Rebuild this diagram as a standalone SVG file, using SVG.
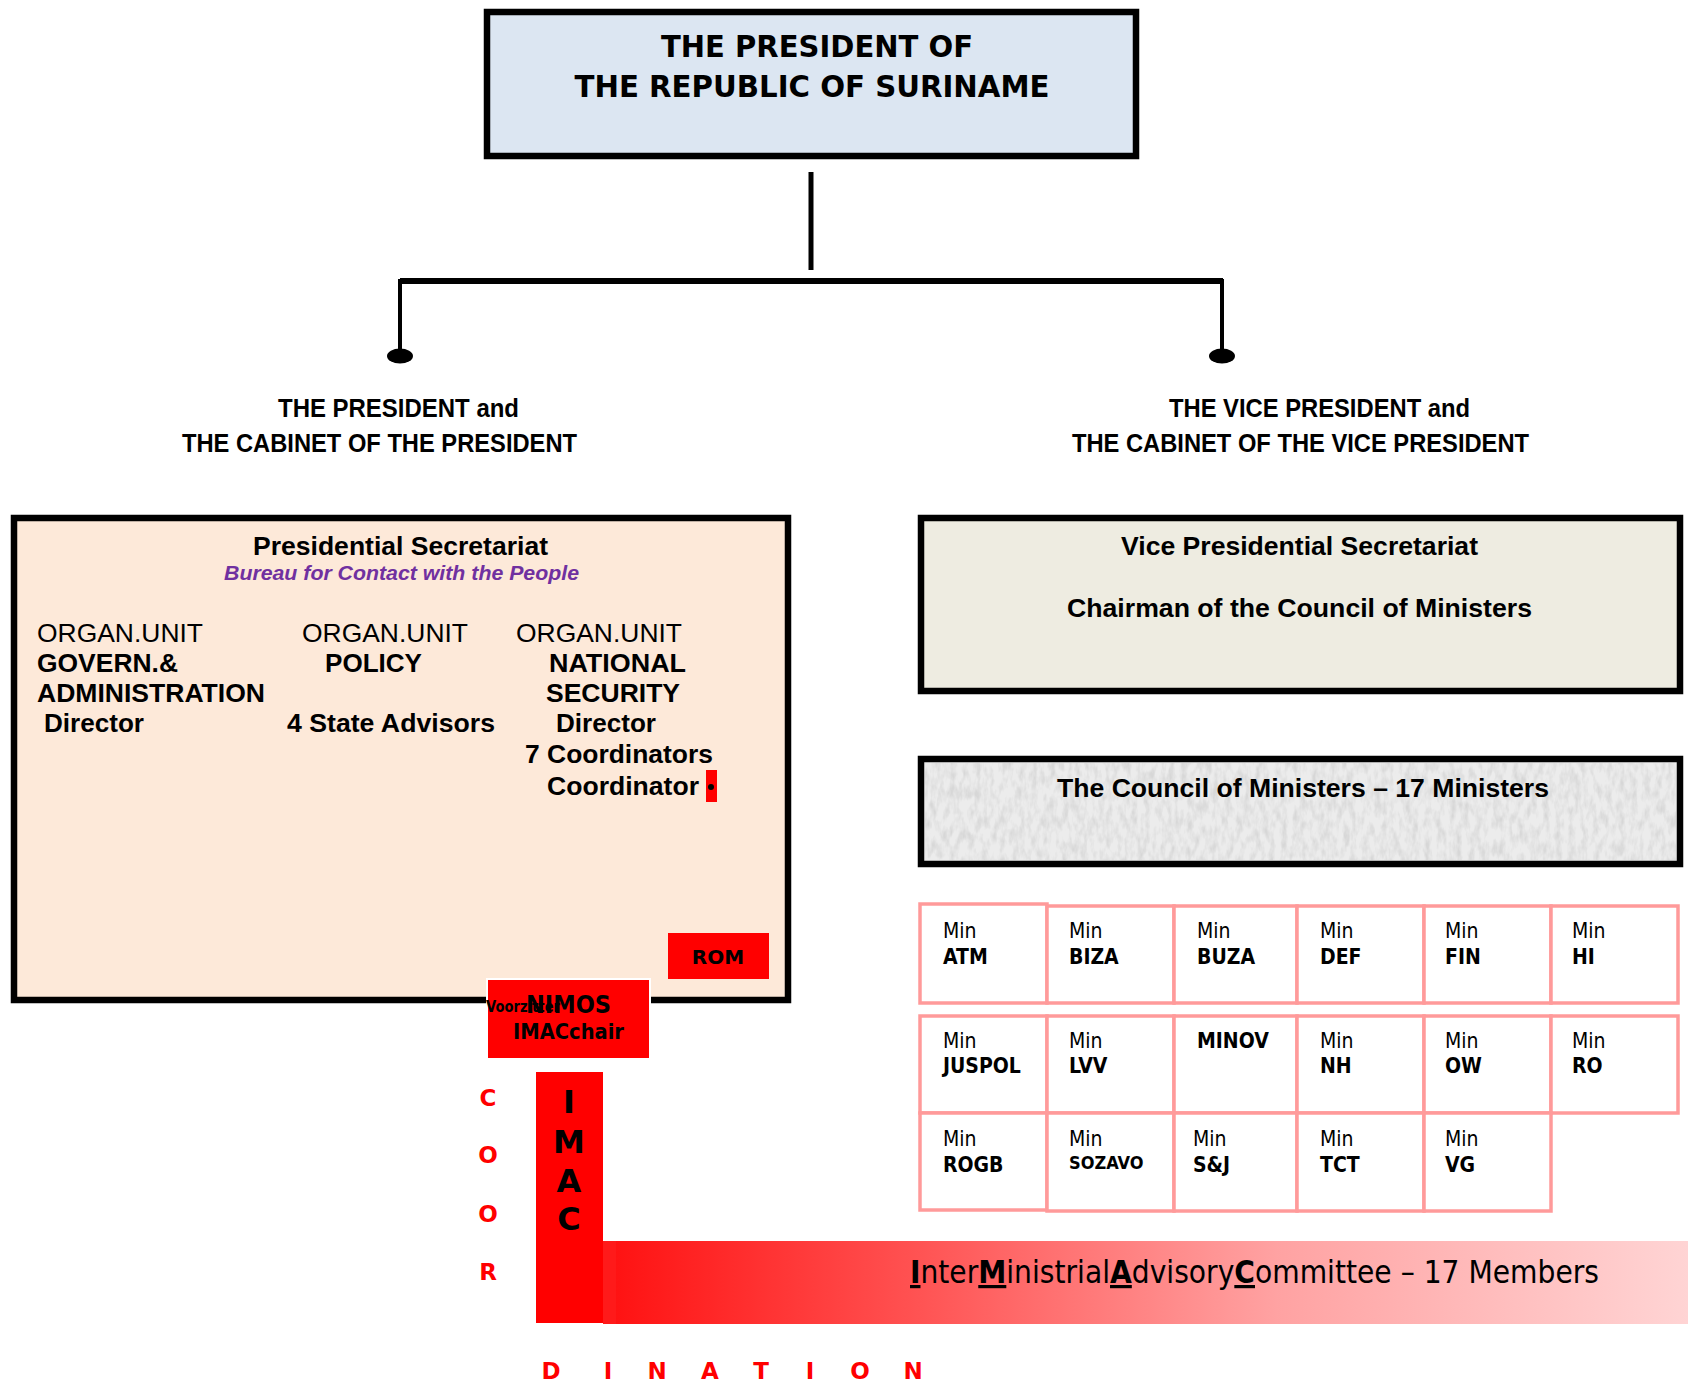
<svg xmlns="http://www.w3.org/2000/svg" width="1688" height="1382" viewBox="0 0 1688 1382">
<style>
.box{stroke:#000;stroke-width:6.5}
.ls{font-family:"Liberation Sans",Arial,sans-serif;font-size:26px;fill:#000}
.b{font-weight:bold}
.cell{fill:#fff;stroke:#ff9a9a;stroke-width:3.5}
.min{font-family:"DejaVu Sans Condensed","DejaVu Sans",sans-serif;font-size:21px;fill:#000}
.code{font-family:"DejaVu Sans Condensed","DejaVu Sans",sans-serif;font-size:21px;font-weight:bold;fill:#000}
.dv{font-family:"DejaVu Sans",Verdana,sans-serif;font-weight:bold}
.red{fill:#ff0000}
.coord{font-family:"DejaVu Sans",Verdana,sans-serif;font-weight:bold;font-size:23px;fill:#ff0000;text-anchor:middle}
.conn{stroke:#000;fill:none}
</style>
<defs>
<linearGradient id="imacg" x1="0" y1="0" x2="1" y2="0">
<stop offset="0" stop-color="#ff1010"/>
<stop offset="0.3" stop-color="#ff5555"/>
<stop offset="0.62" stop-color="#ffa2a2"/>
<stop offset="1" stop-color="#ffd4d4"/>
</linearGradient>
<filter id="tex" x="0" y="0" width="1" height="1">
<feTurbulence type="fractalNoise" baseFrequency="0.16 0.07" numOctaves="3" seed="4"/>
<feColorMatrix type="matrix" values="0 0 0 0 0.68  0 0 0 0 0.68  0 0 0 0 0.68  2.4 0 0 0 -0.95"/>
</filter>
</defs>
<rect width="1688" height="1382" fill="#fff"/>

<g id="president">
<rect class="box" x="487" y="12" width="649" height="144" fill="#dce6f2" stroke-width="7"/>
<text class="dv" x="817" y="57" font-size="31" text-anchor="middle" textLength="312" lengthAdjust="spacingAndGlyphs">THE PRESIDENT OF</text>
<text class="dv" x="812" y="97" font-size="31" text-anchor="middle" textLength="475" lengthAdjust="spacingAndGlyphs">THE REPUBLIC OF SURINAME</text>
</g>

<g id="connectors">
<line class="conn" x1="811" y1="172" x2="811" y2="270" stroke-width="5"/>
<line class="conn" x1="400" y1="281" x2="1223" y2="281" stroke-width="6"/>
<line class="conn" x1="400" y1="279" x2="400" y2="352" stroke-width="4"/>
<line class="conn" x1="1222" y1="279" x2="1222" y2="352" stroke-width="4"/>
<ellipse cx="400" cy="356" rx="13" ry="7.5" fill="#000"/>
<ellipse cx="1222" cy="356" rx="13" ry="7.5" fill="#000"/>
</g>

<g id="label-president">
<text class="ls b" x="278" y="417" textLength="241" lengthAdjust="spacingAndGlyphs">THE PRESIDENT and</text>
<text class="ls b" x="182" y="452" textLength="395" lengthAdjust="spacingAndGlyphs">THE CABINET OF THE PRESIDENT</text>
</g>
<g id="label-vice">
<text class="ls b" x="1169" y="417" textLength="301" lengthAdjust="spacingAndGlyphs">THE VICE PRESIDENT and</text>
<text class="ls b" x="1072" y="452" textLength="457" lengthAdjust="spacingAndGlyphs">THE CABINET OF THE VICE PRESIDENT</text>
</g>

<g id="presidential-secretariat">
<rect class="box" x="14" y="518" width="774" height="482" fill="#fde9d9"/>
<text class="ls b" x="253" y="555" textLength="295" lengthAdjust="spacingAndGlyphs">Presidential Secretariat</text>
<text class="ls b" x="224" y="580" font-style="italic" style="fill:#7030a0;font-size:21px" textLength="355" lengthAdjust="spacingAndGlyphs">Bureau for Contact with the People</text>
<text class="ls" x="37" y="642" textLength="166" lengthAdjust="spacingAndGlyphs">ORGAN.UNIT</text>
<text class="ls b" x="37" y="672" textLength="141" lengthAdjust="spacingAndGlyphs">GOVERN.&amp;</text>
<text class="ls b" x="37" y="702" textLength="228" lengthAdjust="spacingAndGlyphs">ADMINISTRATION</text>
<text class="ls b" x="44" y="732" textLength="100" lengthAdjust="spacingAndGlyphs">Director</text>
<text class="ls" x="302" y="642" textLength="166" lengthAdjust="spacingAndGlyphs">ORGAN.UNIT</text>
<text class="ls b" x="325" y="672" textLength="97" lengthAdjust="spacingAndGlyphs">POLICY</text>
<text class="ls b" x="287" y="732" textLength="208" lengthAdjust="spacingAndGlyphs">4 State Advisors</text>
<text class="ls" x="516" y="642" textLength="166" lengthAdjust="spacingAndGlyphs">ORGAN.UNIT</text>
<text class="ls b" x="549" y="672" textLength="137" lengthAdjust="spacingAndGlyphs">NATIONAL</text>
<text class="ls b" x="546" y="702" textLength="134" lengthAdjust="spacingAndGlyphs">SECURITY</text>
<text class="ls b" x="556" y="732" textLength="100" lengthAdjust="spacingAndGlyphs">Director</text>
<text class="ls b" x="525" y="763" textLength="188" lengthAdjust="spacingAndGlyphs">7 Coordinators</text>
<text class="ls b" x="547" y="795" textLength="152" lengthAdjust="spacingAndGlyphs">Coordinator</text>
<rect class="red" x="706" y="770" width="11" height="32"/>
<circle cx="711" cy="787" r="3" fill="#000"/>
</g>

<g id="rom">
<rect class="red" x="668" y="933" width="101" height="46"/>
<text class="dv" x="718" y="964" font-size="20" text-anchor="middle">ROM</text>
</g>

<g id="nimos">
<rect class="red" x="487" y="979" width="163" height="80" stroke="#fff" stroke-width="2"/>
<text class="dv" x="486" y="1012" font-size="16" textLength="74" lengthAdjust="spacingAndGlyphs">Voorzitter</text>
<text class="dv" x="526" y="1013" font-size="24" textLength="85" lengthAdjust="spacingAndGlyphs">NIMOS</text>
<text class="dv" x="513" y="1039" font-size="22" textLength="111" lengthAdjust="spacingAndGlyphs">IMACchair</text>
</g>

<g id="vice-secretariat">
<rect class="box" x="921" y="518" width="759" height="173" fill="#eeece1"/>
<text class="ls b" x="1121" y="555" textLength="357" lengthAdjust="spacingAndGlyphs">Vice Presidential Secretariat</text>
<text class="ls b" x="1067" y="617" textLength="465" lengthAdjust="spacingAndGlyphs">Chairman of the Council of Ministers</text>
</g>

<g id="council">
<rect class="box" x="921" y="759" width="759" height="105" fill="#ececec"/>
<rect x="925" y="763" width="751" height="97" filter="url(#tex)"/>
<text class="ls b" x="1057" y="797" textLength="492" lengthAdjust="spacingAndGlyphs">The Council of Ministers – 17 Ministers</text>
</g>

<g id="ministers">
<g id="min-atm"><rect class="cell" x="920" y="904" width="127" height="99"/><text class="min" x="943" y="938">Min</text><text class="code" x="943" y="964">ATM</text></g>
<g id="min-biza"><rect class="cell" x="1047" y="906" width="127" height="97"/><text class="min" x="1069" y="938">Min</text><text class="code" x="1069" y="964">BIZA</text></g>
<g id="min-buza"><rect class="cell" x="1174" y="906" width="123" height="97"/><text class="min" x="1197" y="938">Min</text><text class="code" x="1197" y="964">BUZA</text></g>
<g id="min-def"><rect class="cell" x="1297" y="906" width="127" height="97"/><text class="min" x="1320" y="938">Min</text><text class="code" x="1320" y="964">DEF</text></g>
<g id="min-fin"><rect class="cell" x="1424" y="906" width="127" height="97"/><text class="min" x="1445" y="938">Min</text><text class="code" x="1445" y="964">FIN</text></g>
<g id="min-hi"><rect class="cell" x="1551" y="906" width="127" height="97"/><text class="min" x="1572" y="938">Min</text><text class="code" x="1572" y="964">HI</text></g>

<g id="min-juspol"><rect class="cell" x="920" y="1016" width="127" height="97"/><text class="min" x="943" y="1048">Min</text><text class="code" x="943" y="1073">JUSPOL</text></g>
<g id="min-lvv"><rect class="cell" x="1047" y="1016" width="127" height="97"/><text class="min" x="1069" y="1048">Min</text><text class="code" x="1069" y="1073">LVV</text></g>
<g id="min-minov"><rect class="cell" x="1174" y="1016" width="123" height="97"/><text class="code" x="1197" y="1048">MINOV</text></g>
<g id="min-nh"><rect class="cell" x="1297" y="1016" width="127" height="97"/><text class="min" x="1320" y="1048">Min</text><text class="code" x="1320" y="1073">NH</text></g>
<g id="min-ow"><rect class="cell" x="1424" y="1016" width="127" height="97"/><text class="min" x="1445" y="1048">Min</text><text class="code" x="1445" y="1073">OW</text></g>
<g id="min-ro"><rect class="cell" x="1551" y="1016" width="127" height="97"/><text class="min" x="1572" y="1048">Min</text><text class="code" x="1572" y="1073">RO</text></g>

<g id="min-rogb"><rect class="cell" x="920" y="1113" width="127" height="97"/><text class="min" x="943" y="1146">Min</text><text class="code" x="943" y="1172">ROGB</text></g>
<g id="min-sozavo"><rect class="cell" x="1047" y="1113" width="127" height="98"/><text class="min" x="1069" y="1146">Min</text><text class="code" x="1069" y="1169" style="font-size:18px">SOZAVO</text></g>
<g id="min-sj"><rect class="cell" x="1174" y="1113" width="123" height="98"/><text class="min" x="1193" y="1146">Min</text><text class="code" x="1193" y="1172">S&amp;J</text></g>
<g id="min-tct"><rect class="cell" x="1297" y="1113" width="127" height="98"/><text class="min" x="1320" y="1146">Min</text><text class="code" x="1320" y="1172">TCT</text></g>
<g id="min-vg"><rect class="cell" x="1424" y="1113" width="127" height="98"/><text class="min" x="1445" y="1146">Min</text><text class="code" x="1445" y="1172">VG</text></g>
</g>

<g id="imac-bar">
<rect x="603" y="1241" width="1085" height="83" fill="url(#imacg)"/>
<rect x="603" y="1241" width="13" height="83" fill="#ff1a1a"/>
<text x="910" y="1283" font-family="'DejaVu Sans Condensed','DejaVu Sans',sans-serif" font-size="32" fill="#000" textLength="689" lengthAdjust="spacingAndGlyphs"><tspan font-weight="bold" text-decoration="underline">I</tspan>nter<tspan font-weight="bold" text-decoration="underline">M</tspan>inistrial<tspan font-weight="bold" text-decoration="underline">A</tspan>dvisory<tspan font-weight="bold" text-decoration="underline">C</tspan>ommittee – 17 Members</text>
</g>

<g id="imac">
<rect class="red" x="536" y="1072" width="67" height="251"/>
<text class="dv" x="569" y="1113" font-size="32" text-anchor="middle">I</text>
<text class="dv" x="569" y="1153" font-size="32" text-anchor="middle">M</text>
<text class="dv" x="569" y="1192" font-size="32" text-anchor="middle">A</text>
<text class="dv" x="569" y="1230" font-size="32" text-anchor="middle">C</text>
</g>

<g id="coordination">
<text class="coord" x="488" y="1106">C</text>
<text class="coord" x="488" y="1163">O</text>
<text class="coord" x="488" y="1222">O</text>
<text class="coord" x="488" y="1280">R</text>
<text class="coord" x="551" y="1379">D</text>
<text class="coord" x="608" y="1379">I</text>
<text class="coord" x="657" y="1379">N</text>
<text class="coord" x="710" y="1379">A</text>
<text class="coord" x="761" y="1379">T</text>
<text class="coord" x="810" y="1379">I</text>
<text class="coord" x="860" y="1379">O</text>
<text class="coord" x="913" y="1379">N</text>
</g>
</svg>
